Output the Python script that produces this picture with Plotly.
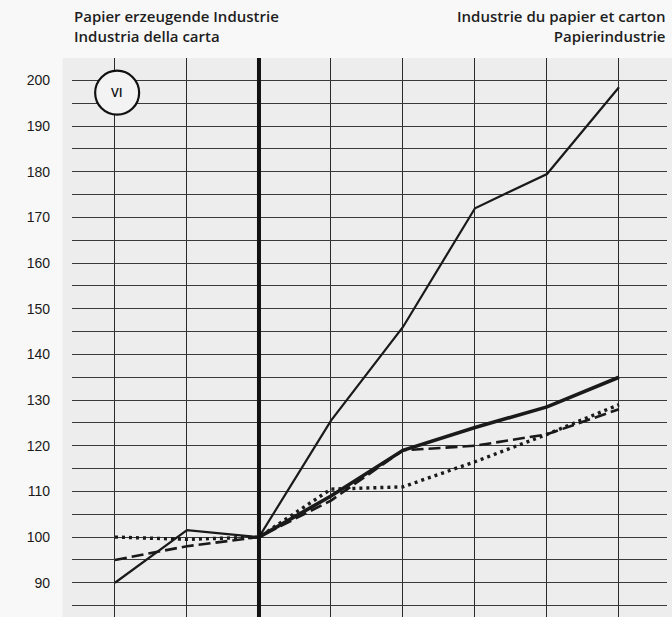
import plotly.graph_objects as go

# Category positions (years, unlabeled in the original)
periods = [0, 1, 2, 3, 4, 5, 6, 7]

thin_solid = [90, 101.5, 100, 125.5, 146, 172, 179.5, 198.5]
thick_solid = [None, None, 100, 109, 119, 124, 128.5, 135]
dashed = [95, 98, 100, 108, 119, 120, 122.5, 128]
dotted = [100, 99.5, 100, 110.5, 111, 116.5, 122.5, 129]

y_label_vals = [90, 100, 110, 120, 130, 140, 150, 160, 170, 180, 190, 200]
grid_vals = [85 + 5 * i for i in range(24)]
grid_text = [str(v) if v in y_label_vals else "" for v in grid_vals]

title_left = "Papier erzeugende Industrie<br>Industria della carta"
title_right = "Industrie du papier et carton<br>Papierindustrie"

ink = "#1a1a1a"

fig = go.Figure()
fig.add_trace(go.Scatter(x=periods, y=thin_solid, mode="lines",
                         line=dict(color=ink, width=2.2), showlegend=False))
fig.add_trace(go.Scatter(x=periods, y=dashed, mode="lines",
                         line=dict(color=ink, width=2.6, dash="12px,5px"), showlegend=False))
fig.add_trace(go.Scatter(x=periods, y=dotted, mode="lines",
                         line=dict(color=ink, width=3.4, dash="3px,4px"), showlegend=False))
fig.add_trace(go.Scatter(x=periods, y=thick_solid, mode="lines",
                         line=dict(color=ink, width=3.6), showlegend=False))

shapes = [
    # grey scanned-page panel behind the grid
    dict(type="rect", xref="paper", yref="paper", x0=-0.016, x1=1.01, y0=0, y1=1,
         fillcolor="#ededed", line=dict(width=0), layer="below"),
    # heavy vertical reference line at the base period
    dict(type="line", xref="x", yref="paper", x0=2, x1=2, y0=0, y1=1,
         line=dict(color="#111", width=4), layer="above"),
    # circled roman numeral
    dict(type="circle", xref="x", yref="y", xsizemode="pixel", ysizemode="pixel",
         xanchor=0.03, yanchor=197.3, x0=-22, x1=22, y0=-22, y1=22,
         fillcolor="#f3f3f3", line=dict(color="#111", width=2.2), layer="above"),
]

title_font = dict(family="Open Sans", size=15, color="#1e1e1e", weight=600)
annotations = [
    dict(text=title_left, xref="paper", yref="paper", align="left",
         x=0, y=1, xanchor="left", yanchor="bottom", yshift=10, showarrow=False, font=title_font),
    dict(text=title_right, xref="paper", yref="paper", align="right",
         x=1, y=1, xanchor="right", yanchor="bottom", yshift=10, showarrow=False, font=title_font),
    dict(text="VI", xref="x", yref="y", x=0.03, y=197.3, showarrow=False,
         font=dict(family="Open Sans", size=12.5, color="#111", weight=600)),
]

fig.update_layout(
    width=672, height=617,
    margin=dict(l=72, r=5, t=58, b=0),
    paper_bgcolor="#f8f8f8",
    plot_bgcolor="#ededed",
    shapes=shapes,
    annotations=annotations,
    xaxis=dict(range=[-0.597, 7.667], tickvals=periods, ticktext=[""] * 8,
               showgrid=True, gridcolor="#2a2a2a", gridwidth=1.2,
               zeroline=False, showline=False, ticks="", showticklabels=False,
               fixedrange=True),
    yaxis=dict(range=[82.5, 204.9], tickvals=grid_vals, ticktext=grid_text,
               showgrid=True, gridcolor="#3a3a3a", gridwidth=1.2,
               zeroline=False, showline=False, ticks="",
               ticklabelstandoff=21,
               tickfont=dict(family="Liberation Sans", size=14, color="#1a1a1a"),
               fixedrange=True),
)

fig.write_html("out.html", config={"displayModeBar": False},
               post_script="document.body.style.margin='0';document.body.style.overflow='hidden';")
